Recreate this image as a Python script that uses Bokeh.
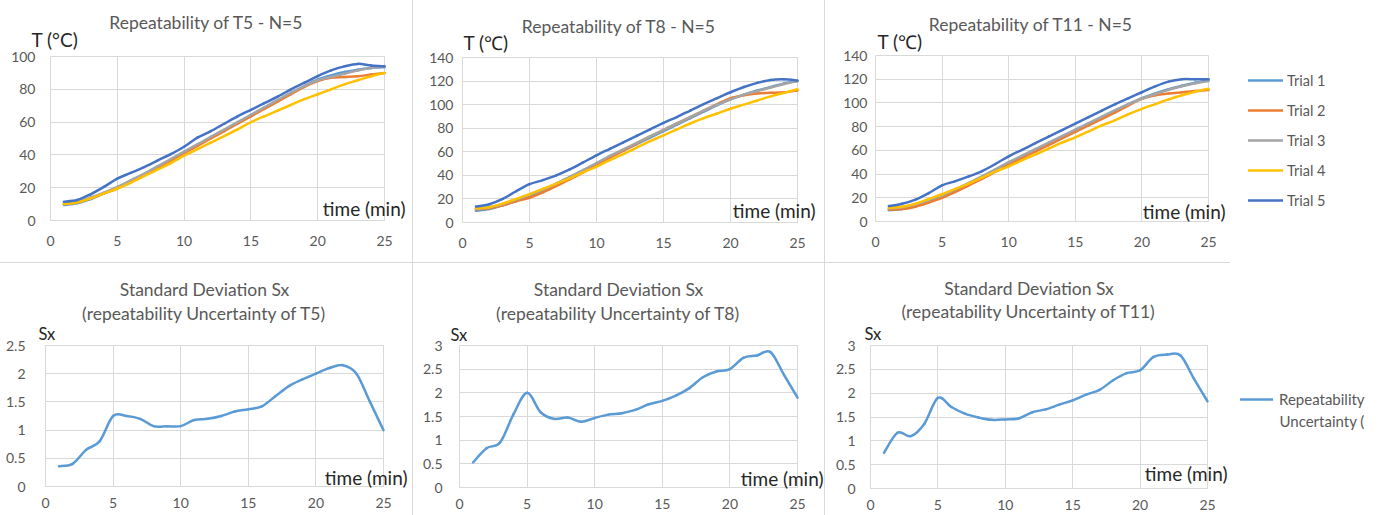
from bokeh.plotting import figure
from bokeh.layouts import row, column
from bokeh.models import (Range1d, FixedTicker, Label, Legend, LegendItem, Spacer,
                          CustomJSTickFormatter, Grid)
from bokeh.embed import file_html
from bokeh.resources import INLINE

# ---------------- data ----------------
time_min = list(range(1, 26))
x_ticks = [0, 5, 10, 15, 20, 25]

trial_names = ["Trial 1", "Trial 2", "Trial 3", "Trial 4", "Trial 5"]
trial_colors = ["#5B9BD5", "#ED7D31", "#A5A5A5", "#FFC000", "#4472C4"]

t5_trial1 = [9.5, 10.5, 13, 16.5, 20, 24, 28, 32.5, 37, 41.5, 46, 50.5, 55, 59.5, 64, 68.5, 73, 77.5, 82, 86, 88.5, 90.5, 92, 93, 93.5]
t5_trial2 = [10, 11, 13.5, 16.5, 19.5, 23.5, 27.5, 32, 36.5, 41, 45.5, 50, 54.5, 59, 63.5, 68, 72.5, 77, 81.5, 85, 87, 87.5, 88, 89, 90]
t5_trial3 = [10.5, 11.5, 14, 17, 20.5, 24.5, 28.5, 33, 37.5, 42, 46.5, 51, 55.5, 60, 64.5, 69, 73.5, 78, 82, 85.5, 87.5, 89.5, 91.5, 93, 94]
t5_trial4 = [10, 11, 13.5, 16.5, 19.5, 23, 27, 31, 35, 39.5, 43.5, 47.5, 51.5, 55.5, 60, 63.5, 67, 70.5, 74, 77, 80, 83, 85.5, 88, 90]
t5_trial5 = [11.5, 12.5, 16, 20.5, 25.5, 29, 32.5, 36.5, 40.5, 45, 50.5, 54.5, 59, 63.5, 67.5, 71.5, 75.5, 80, 84, 88, 91.5, 94, 95.5, 94.5, 94]

t8_trial1 = [10, 11.5, 14.5, 18.5, 22.5, 27.5, 33, 38.5, 44, 50, 55.5, 61, 66.5, 72, 77.5, 83, 88.5, 94, 99.5, 104.5, 108.5, 112, 115, 118, 120]
t8_trial2 = [11, 12, 14.5, 18, 21, 25.5, 31, 36.5, 42.5, 49, 55, 61, 67, 73, 78.5, 84, 89.5, 95, 100.5, 105.5, 108, 109.5, 110, 110.5, 112]
t8_trial3 = [11.5, 13, 15.5, 19.5, 23.5, 28, 33, 38.5, 44.5, 50.5, 56.5, 62, 67.5, 73, 78.5, 84, 89.5, 95, 100, 104.5, 108.5, 111.5, 114.5, 117.5, 120]
t8_trial4 = [12, 13, 16, 20, 24, 28.5, 33, 37.5, 42.5, 47.5, 53, 58, 63.5, 69, 74, 79, 84, 88.5, 92.5, 96.5, 100, 103.5, 107, 110, 113]
t8_trial5 = [13.5, 15.5, 20, 26.5, 32.5, 36, 40, 45, 51, 57, 62.5, 68, 73.5, 79, 84.5, 89.5, 95, 100.5, 105.5, 110.5, 115, 118.5, 121, 121.5, 120.5]

t11_trial1 = [9.5, 10.5, 13, 17, 21.5, 26.5, 32, 37.5, 43.5, 49.5, 55, 60.5, 66, 71.5, 77, 82.5, 88, 93.5, 99, 104, 108, 111.5, 114.5, 117, 119]
t11_trial2 = [10, 10.5, 12.5, 16, 20, 25, 30.5, 36, 42, 48, 53.5, 59, 64.5, 70, 75.5, 81, 86.5, 92, 98, 103.5, 106.5, 108, 109, 110, 111]
t11_trial3 = [11, 12, 14.5, 18, 22, 27, 32.5, 38, 44, 50, 55.5, 61, 66.5, 72, 77.5, 83, 88.5, 94, 99, 103.5, 107.5, 111, 114, 116.5, 118.5]
t11_trial4 = [11.5, 12.5, 15, 19, 23, 27.5, 32, 37, 42, 46.5, 51.5, 56.5, 61.5, 66.5, 71, 76, 81, 85.5, 90.5, 95, 99, 103, 106.5, 109.5, 112]
t11_trial5 = [13, 15, 18.5, 24, 30.5, 34, 38, 42.5, 48.5, 55, 60.5, 66, 71.5, 77, 82.5, 88, 93.5, 99, 104, 109, 114, 118, 120, 120, 120]

sx_t5 = [0.36, 0.4, 0.65, 0.8, 1.25, 1.25, 1.2, 1.07, 1.07, 1.07, 1.18, 1.2, 1.25, 1.33, 1.37, 1.42, 1.6, 1.78, 1.9, 2.0, 2.1, 2.15, 2.0, 1.5, 1.0]
sx_t8 = [0.53, 0.83, 0.95, 1.55, 2.0, 1.59, 1.45, 1.48, 1.39, 1.47, 1.54, 1.57, 1.64, 1.76, 1.83, 1.94, 2.1, 2.33, 2.45, 2.5, 2.74, 2.79, 2.86, 2.38, 1.9]
sx_t11 = [0.75, 1.17, 1.1, 1.36, 1.9, 1.71, 1.57, 1.49, 1.44, 1.45, 1.47, 1.6, 1.66, 1.76, 1.85, 1.97, 2.07, 2.27, 2.42, 2.48, 2.76, 2.81, 2.79, 2.3, 1.83]

top_y_ticks_100 = [0, 20, 40, 60, 80, 100]
top_y_ticks_140 = [0, 20, 40, 60, 80, 100, 120, 140]
sx_ticks_25 = [0, 0.5, 1, 1.5, 2, 2.5]
sx_ticks_3 = [0, 0.5, 1, 1.5, 2, 2.5, 3]

top_titles = ["Repeatability of T5 - N=5", "Repeatability of T8 - N=5", "Repeatability of T11 - N=5"]
bottom_title_1 = "Standard Deviation Sx"
bottom_titles_2 = ["(repeatability Uncertainty of T5)", "(repeatability Uncertainty of T8)",
                   "(repeatability Uncertainty of T11)"]
y_titles_top = ["T (°C)", "T (℃)", "T (℃)"]
x_title = "time (min)"
y_title_bottom = "Sx"
sx_legend = ["Repeatability", "Uncertainty ("]

# ---------------- style / layout ----------------
FONT = "Lato"
GRID = "#d9d9d9"
TICK_COL = "#595959"
DARK = "#262626"

TOP_H = 262
BOT_H = 252
HAS_CROSS = "cross_bounds" in Grid.properties()


def make_fig(w, h, px_left, px_right, px_top, px_bottom, ymax, yticks, ystand, xstand):
    xu = 25.0 / (px_right - px_left)
    yu = ymax / float(px_bottom - px_top)
    xr = Range1d(-px_left * xu, 25 + (w - px_right) * xu)
    yr = Range1d(-(h - px_bottom) * yu, ymax + px_top * yu)
    p = figure(width=w, height=h, x_range=xr, y_range=yr,
               output_backend="svg", toolbar_location=None,
               min_border_left=0, min_border_right=0, min_border_top=0, min_border_bottom=0)
    p.background_fill_color = "white"
    p.border_fill_color = "white"
    p.outline_line_color = None
    p.xaxis.fixed_location = 0
    p.yaxis.fixed_location = 0
    p.xaxis.bounds = (0, 25)
    p.yaxis.bounds = (0, ymax)
    p.xaxis.ticker = FixedTicker(ticks=x_ticks)
    p.yaxis.ticker = FixedTicker(ticks=yticks)
    for ax in (p.xaxis, p.yaxis):
        ax.major_tick_line_color = None
        ax.minor_tick_line_color = None
        ax.major_tick_out = 0
        ax.major_tick_in = 0
        ax.minor_tick_out = 0
        ax.minor_tick_in = 0
        ax.major_label_text_font = FONT
        ax.major_label_text_font_size = "14px"
        ax.major_label_text_color = TICK_COL
    p.xaxis.axis_line_color = GRID
    p.yaxis.axis_line_color = None
    p.yaxis.major_label_standoff = ystand
    p.xaxis.major_label_standoff = xstand
    if HAS_CROSS:
        p.xgrid.bounds = (0, 25)
        p.xgrid.cross_bounds = (0, ymax)
        p.ygrid.bounds = (0, ymax)
        p.ygrid.cross_bounds = (0, 25)
        p.xgrid.grid_line_color = GRID
        p.ygrid.grid_line_color = GRID
    else:
        p.grid.visible = False
        p.segment(x0=x_ticks, y0=[0] * len(x_ticks), x1=x_ticks, y1=[ymax] * len(x_ticks),
                  line_color=GRID, line_width=1)
        p.segment(x0=[0] * len(yticks), y0=yticks, x1=[25] * len(yticks), y1=yticks,
                  line_color=GRID, line_width=1)
    return p


def smooth_line(p, xs, ys, color):
    """Excel-like smoothed line: cubic Bezier segments through every data point."""
    n = len(xs)
    seg = dict(x0=[], y0=[], x1=[], y1=[], cx0=[], cy0=[], cx1=[], cy1=[])
    for i in range(n - 1):
        ip = max(i - 1, 0)
        i2 = min(i + 2, n - 1)
        seg["x0"].append(xs[i]); seg["y0"].append(ys[i])
        seg["x1"].append(xs[i + 1]); seg["y1"].append(ys[i + 1])
        seg["cx0"].append(xs[i] + (xs[i + 1] - xs[ip]) / 6.0)
        seg["cy0"].append(ys[i] + (ys[i + 1] - ys[ip]) / 6.0)
        seg["cx1"].append(xs[i + 1] - (xs[i2] - xs[i]) / 6.0)
        seg["cy1"].append(ys[i + 1] - (ys[i2] - ys[i]) / 6.0)
    return p.bezier(line_color=color, line_width=2.5, line_cap="round", **seg)


def add_label(p, x, y, text, dx, dy, size, color, align="left", baseline="middle"):
    p.add_layout(Label(x=x, y=y, x_offset=dx, y_offset=dy, text=text,
                       text_font=FONT, text_font_size=size, text_color=color,
                       text_align=align, text_baseline=baseline))


# per chart: fig width, plot left, right, top, bottom (px), y standoff,
#            ytitle dx, ytitle dy, xtitle dx, xtitle dy, title dy
top_geo = [
    (412, 50, 384, 56, 220, 15, -19, 17, 21, 12, 34),
    (411, 49, 384, 57, 222, 9, 1, 15.5, 18, 12, 31.5),
    (555, 50, 383, 55, 221, 8, 2, 14, 17, 10, 31.5),
]
# per chart: fig width, plot left, right, top, bottom, y standoff,
#            Sx dx, Sx dy, xtitle dx, xtitle dy, title line1 dy, title line2 dy
bot_geo = [
    (412, 45, 383, 82, 223, 20, -7, 12, 24, 9, 56, 32),
    (411, 46, 384, 82, 224, 17, -9, 11, 26, 9, 56, 32.5),
    (555, 45, 382, 82, 225, 15, -6, 12, 20, 15, 57.5, 34),
]

top_series = [
    [t5_trial1, t5_trial2, t5_trial3, t5_trial4, t5_trial5],
    [t8_trial1, t8_trial2, t8_trial3, t8_trial4, t8_trial5],
    [t11_trial1, t11_trial2, t11_trial3, t11_trial4, t11_trial5],
]
top_ymax = [100, 140, 140]
top_ticks = [top_y_ticks_100, top_y_ticks_140, top_y_ticks_140]

sx_series = [sx_t5, sx_t8, sx_t11]
sx_ymax = [2.5, 3, 3]
sx_ticks = [sx_ticks_25, sx_ticks_3, sx_ticks_3]

top_figs = []
top_renderers = []
for i in range(3):
    w, pl, pr, pt, pb, ys, tdx, tdy, xdx, xdy, ttl = top_geo[i]
    ymax = top_ymax[i]
    p = make_fig(w, TOP_H, pl, pr, pt, pb, ymax, top_ticks[i], ys, 15)
    rs = []
    for name, col, ser in zip(trial_names, trial_colors, top_series[i]):
        rs.append(smooth_line(p, time_min, ser, col))
    top_renderers.append(rs)
    add_label(p, 12.5, ymax, top_titles[i], -11, ttl, "17.5px", TICK_COL, "center")
    add_label(p, 0, ymax, y_titles_top[i], tdx, tdy, "19px", DARK)
    add_label(p, 25, 0, x_title, xdx, xdy, "19px", DARK, "right")
    top_figs.append(p)

# legend for trials (right of the T11 chart)
p3 = top_figs[2]
items = [LegendItem(label=n, renderers=[r]) for n, r in zip(trial_names, top_renderers[2])]
lg = Legend(items=items, location=(423, TOP_H - 70 - 140), glyph_width=35, glyph_height=20,
            label_height=20, spacing=10, label_standoff=4, padding=0, margin=0,
            border_line_color=None, background_fill_alpha=0,
            label_text_font=FONT, label_text_font_size="14.5px", label_text_color=TICK_COL)
p3.add_layout(lg)

fmt = CustomJSTickFormatter(code="return String(Math.round(tick*10)/10);")
bot_figs = []
for i in range(3):
    w, pl, pr, pt, pb, ys, sdx, sdy, xdx, xdy, t1dy, t2dy = bot_geo[i]
    ymax = sx_ymax[i]
    p = make_fig(w, BOT_H, pl, pr, pt, pb, ymax, sx_ticks[i], ys, 11)
    p.yaxis.formatter = fmt
    r = smooth_line(p, time_min, sx_series[i], "#5B9BD5")
    add_label(p, 12.5, ymax, bottom_title_1, -10, t1dy, "17.5px", TICK_COL, "center")
    add_label(p, 12.5, ymax, bottom_titles_2[i], -10, t2dy, "17.5px", TICK_COL, "center")
    add_label(p, 0, ymax, y_title_bottom, sdx, sdy, "16.5px", DARK)
    add_label(p, 25, 0, x_title, xdx, xdy, "19px", DARK, "right")
    bot_figs.append(p)
    if i == 2:
        lg2 = Legend(items=[LegendItem(label=sx_legend[0], renderers=[r])],
                     location=(415, BOT_H - 125.5 - 20), glyph_width=33, glyph_height=20,
                     label_height=20, spacing=0, label_standoff=6, padding=0, margin=0,
                     border_line_color=None, background_fill_alpha=0,
                     label_text_font=FONT, label_text_font_size="15px",
                     label_text_color=TICK_COL)
        p.add_layout(lg2)
        # second line of the legend label
        add_label(p, 25, 0, sx_legend[1], 454 - pr, (pb - 157.5), "15px", TICK_COL)

SEP = {"background-color": GRID}


def hsep(w):
    return Spacer(width=w, height=1, styles=SEP)


def vsep():
    return Spacer(width=1, height=TOP_H + 1 + BOT_H, styles=SEP)


col1 = column(top_figs[0], hsep(412), bot_figs[0], spacing=0)
col2 = column(top_figs[1], hsep(411), bot_figs[1], spacing=0)
col3 = column(top_figs[2], hsep(405), bot_figs[2], spacing=0)
layout = row(col1, vsep(), col2, vsep(), col3, spacing=0)

open("out.html", "w").write(file_html(layout, INLINE))
